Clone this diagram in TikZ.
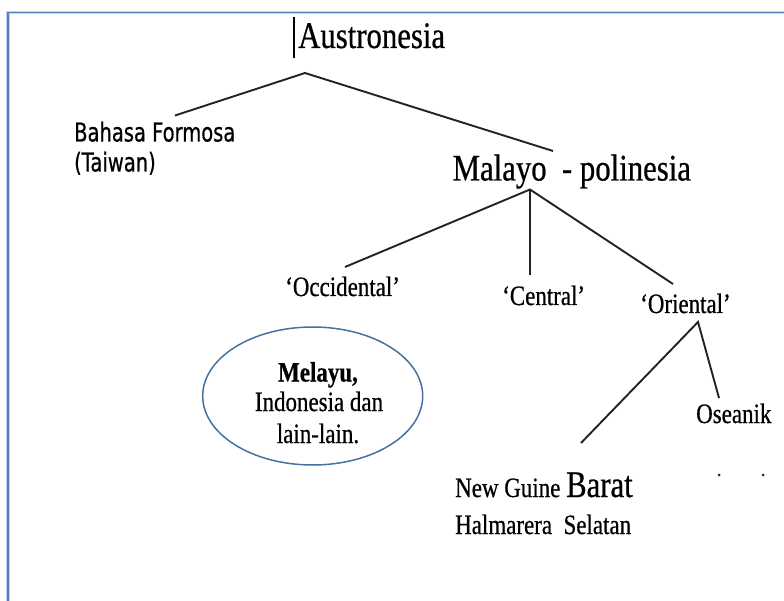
\documentclass[tikz,border=0pt]{standalone}
\usepackage{fontspec}
\setmainfont{Liberation Serif}[FakeStretch=0.82,FakeBold=0.6]
\newfontfamily\tahomalike{DejaVu Sans}[FakeStretch=0.75,FakeBold=0.6]
\usetikzlibrary{shapes.geometric}
\definecolor{framblue}{RGB}{79,129,189}
\definecolor{framhalo}{RGB}{196,212,234}
\definecolor{ovalblue}{RGB}{70,114,160}
\definecolor{branch}{RGB}{35,35,35}
\begin{document}
\begin{tikzpicture}[x=1pt,y=-1pt,
  lbl/.style={inner sep=0pt,anchor=base west,text=black,font=\fontsize{28}{31}\selectfont},
  biglbl/.style={inner sep=0pt,anchor=base west,text=black,font=\fontsize{37.5}{40}\selectfont},
  sanslbl/.style={inner sep=0pt,anchor=base west,text=black,font=\tahomalike\fontsize{26}{30}\selectfont},
  ovaltxt/.style={inner sep=0pt,anchor=base,text=black,font=\fontsize{28}{31}\selectfont},
  branchline/.style={draw=branch,line width=1.9pt},
  frameline/.style={line width=3.4pt,draw=framhalo},
  frameinner/.style={line width=1.6pt,draw=framblue}]
\useasboundingbox (0,0) rectangle (784,601);
\fill[white] (0,0) rectangle (784,601);

% page frame
\draw[frameline] (784,12.5) -- (8,12.5) -- (8,601);
\draw[frameinner] (784,12.5) -- (8,12.5) -- (8,601);

% labels
\node[biglbl] (aus) at (298,48) {Austronesia};
\draw[line width=2.2pt,black] (294,17) -- (294,58);
\node[sanslbl] (bf) at (74,141.5) {Bahasa Formosa};
\node[sanslbl] (bft) at (74,171.5) {(Taiwan)};
\node[biglbl] (mp) at (452.5,180.5) {Malayo\ \ - polinesia};
\node[lbl] (occ) at (285,296) {‘Occidental’};
\node[lbl] (cen) at (502,305) {‘Central’};
\node[lbl] (ori) at (640,313) {‘Oriental’};
\node[lbl] (ose) at (696,423) {Oseanik};
\node[lbl] (ngb) at (455,497) {New Guine {\fontsize{37.5}{40}\selectfont Barat}};
\node[lbl] (hs) at (455,534) {Halmarera\ \ Selatan};

% oval group
\node[draw=ovalblue,line width=1.5pt,ellipse,inner sep=0pt,
      minimum width=220,minimum height=138] (melbox) at (312.7,396) {};
\node[ovaltxt] (mel) at (318,381.5) {\bfseries Melayu,};
\node[ovaltxt] (ind) at (319,411) {Indonesia dan};
\node[ovaltxt] (lain) at (318,443) {lain-lain.};

% branch junctions and ends
\coordinate (jA) at (305,73);
\coordinate (eBF) at (175,115.5);
\coordinate (eMP) at (553,151);
\coordinate (jM) at (530,189.5);
\coordinate (eOcc) at (345,267);
\coordinate (eCen) at (530,275);
\coordinate (eOri) at (673,284);
\coordinate (jO) at (698,322);
\coordinate (eOse) at (719,398);
\coordinate (eNG) at (581,443);

\draw[branchline] (eBF) -- (jA) -- (eMP);
\draw[branchline] (eOcc) -- (jM) -- (eOri);
\draw[branchline] (jM) -- (eCen);
\draw[branchline] (eNG) -- (jO) -- (eOse);

% small marks
\fill[branch] (719,475) circle (1.5);
\fill[branch] (763,475) circle (1.5);
\end{tikzpicture}
\end{document}
